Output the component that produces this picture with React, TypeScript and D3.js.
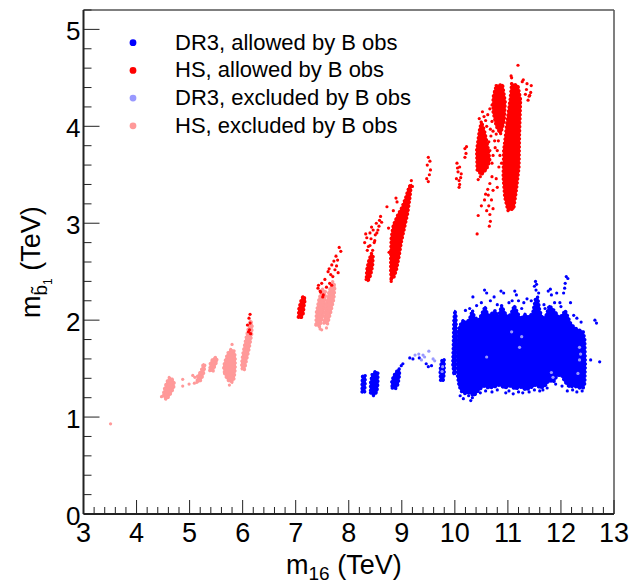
import * as d3 from "d3";

type Pt = [number, number];

const WIDTH = 629;
const HEIGHT = 581;
const MARGIN = { top: 10, right: 15, bottom: 67, left: 83.5 };

const m16Domain: Pt = [3, 13];
const mbDomain: Pt = [0, 5.2];
const m16Ticks = [3, 4, 5, 6, 7, 8, 9, 10, 11, 12, 13];
const mbTicks = [0, 1, 2, 3, 4, 5];

const legendLabels = [
  "DR3, allowed by B obs",
  "HS, allowed by B obs",
  "DR3, excluded by B obs",
  "HS, excluded by B obs",
];
const seriesColors = ["#0000ff", "#ff0000", "#9999ff", "#ff9999"];

// dense parts of each cloud, outlined (m16, mb) in TeV
const dr3AllowedClouds: Pt[][] = [
  [[8.25, 1.26], [8.3, 1.25], [8.31, 1.35], [8.31, 1.43], [8.26, 1.43], [8.25, 1.35]],
  [[8.41, 1.25], [8.47, 1.22], [8.53, 1.26], [8.55, 1.35], [8.55, 1.46], [8.5, 1.47], [8.44, 1.44], [8.41, 1.35]],
  [[8.82, 1.3], [8.88, 1.29], [8.93, 1.34], [8.96, 1.44], [8.95, 1.5], [8.9, 1.47], [8.84, 1.42], [8.81, 1.36]],
  [[9.73, 1.38], [9.78, 1.37], [9.8, 1.45], [9.8, 1.6], [9.75, 1.58], [9.72, 1.48]],
  [[9.98, 1.45], [10.01, 1.44], [10.02, 1.55], [10.03, 1.85], [10.02, 2.06], [10.0, 2.1], [9.98, 2.0], [9.97, 1.75], [9.96, 1.55]],
  [
    [10.06, 1.88], [10.1, 1.95], [10.16, 2.0], [10.22, 1.97], [10.28, 2.02], [10.33, 2.1], [10.37, 2.03],
    [10.45, 2.0], [10.52, 2.08], [10.57, 2.14], [10.62, 2.05], [10.7, 2.07], [10.76, 2.1], [10.82, 2.03],
    [10.88, 2.15], [10.94, 2.08], [11.0, 2.03], [11.06, 2.07], [11.12, 2.15], [11.18, 2.08], [11.24, 2.01],
    [11.32, 2.06], [11.4, 2.03], [11.47, 2.08], [11.52, 2.22], [11.56, 2.24], [11.6, 2.1], [11.66, 2.01],
    [11.72, 2.05], [11.78, 2.15], [11.84, 2.12], [11.9, 2.08], [11.96, 2.03], [12.02, 2.05], [12.08, 2.1],
    [12.12, 2.05], [12.18, 1.97], [12.26, 1.92], [12.34, 1.9], [12.42, 1.88], [12.45, 1.8], [12.46, 1.55],
    [12.45, 1.35], [12.42, 1.3], [12.34, 1.3], [12.25, 1.32], [12.16, 1.31], [12.08, 1.36], [12.0, 1.44],
    [11.92, 1.42], [11.86, 1.36], [11.78, 1.38], [11.7, 1.32], [11.62, 1.3], [11.52, 1.33], [11.42, 1.3],
    [11.34, 1.28], [11.24, 1.31], [11.14, 1.29], [11.04, 1.32], [10.94, 1.3], [10.84, 1.33], [10.74, 1.31],
    [10.64, 1.3], [10.54, 1.32], [10.44, 1.27], [10.36, 1.22], [10.28, 1.25], [10.2, 1.24], [10.13, 1.26],
    [10.08, 1.32], [10.05, 1.42], [10.05, 1.6],
  ],
];

const dr3AllowedPoints: Pt[] = [
  [8.99, 1.53], [9.02, 1.55], [9.15, 1.61], [9.21, 1.6], [9.33, 1.61], [9.46, 1.55], [9.5, 1.52], [9.56, 1.53],
  [10.2, 2.1], [10.34, 2.24], [10.41, 2.15], [10.56, 2.31], [10.6, 2.28], [10.67, 2.2], [10.74, 2.24],
  [10.87, 2.3], [10.92, 2.28], [11.02, 2.18], [11.13, 2.3], [11.16, 2.26], [11.2, 2.2], [11.3, 2.18],
  [11.36, 2.22], [11.44, 2.2], [11.52, 2.4], [11.54, 2.37], [11.5, 2.35], [11.53, 2.31], [11.58, 2.28],
  [11.68, 2.16], [11.76, 2.3], [11.8, 2.32], [11.82, 2.26], [11.92, 2.28], [11.98, 2.18], [12.05, 2.28],
  [12.08, 2.38], [12.1, 2.45], [12.13, 2.43], [12.07, 2.33], [12.18, 2.18], [12.24, 2.05], [12.3, 2.02],
  [12.38, 1.98], [10.28, 2.12], [10.5, 2.18], [10.8, 2.16], [11.08, 2.2], [11.26, 2.12], [11.7, 2.12],
  [11.88, 2.18], [12.0, 2.14],
  [12.64, 2.0], [12.67, 1.97], [12.56, 1.59], [12.73, 1.57],
  [10.1, 1.22], [10.16, 1.19], [10.3, 1.17], [10.33, 1.2], [10.26, 1.22], [10.48, 1.25], [10.58, 1.27],
  [10.7, 1.26], [10.8, 1.28], [10.96, 1.25], [11.02, 1.27], [11.1, 1.24], [11.2, 1.26], [11.28, 1.25],
  [11.4, 1.26], [11.5, 1.28], [11.6, 1.27], [11.66, 1.28], [11.74, 1.3], [11.9, 1.34], [12.02, 1.32],
  [12.12, 1.27], [12.22, 1.28], [12.3, 1.26], [12.4, 1.27],
];

const dr3ExcludedPoints: Pt[] = [
  [9.25, 1.64], [9.32, 1.65], [9.4, 1.64], [9.51, 1.68], [9.37, 1.59], [9.43, 1.62], [9.59, 1.6], [9.62, 1.58],
  [9.76, 1.47], [9.77, 1.52],
  [11.07, 1.88], [11.26, 1.83], [11.22, 1.72], [10.6, 1.62], [12.35, 1.72], [12.37, 1.65], [12.35, 1.59],
  [11.85, 1.41], [11.82, 1.46], [12.32, 1.45],
];

const hsAllowedClouds: Pt[][] = [
  [[7.05, 2.03], [7.1, 2.02], [7.14, 2.06], [7.16, 2.15], [7.18, 2.22], [7.14, 2.25], [7.1, 2.2], [7.06, 2.12]],
  [[8.33, 2.42], [8.36, 2.4], [8.41, 2.46], [8.45, 2.56], [8.46, 2.66], [8.43, 2.69], [8.38, 2.62], [8.34, 2.52]],
  [
    [8.8, 2.42], [8.85, 2.44], [8.9, 2.52], [8.95, 2.66], [8.99, 2.8], [9.05, 2.95], [9.11, 3.1], [9.15, 3.25],
    [9.18, 3.4], [9.14, 3.38], [9.07, 3.26], [9.0, 3.16], [8.92, 3.08], [8.84, 2.98], [8.8, 2.85], [8.79, 2.65],
    [8.79, 2.5],
  ],
  [[10.78, 4.42], [10.9, 4.43], [10.95, 4.25], [10.93, 4.05], [10.86, 3.92], [10.78, 4.0], [10.72, 4.15], [10.72, 4.3]],
  [[10.42, 3.55], [10.5, 3.5], [10.6, 3.56], [10.66, 3.65], [10.62, 3.8], [10.56, 3.95], [10.5, 4.05], [10.46, 3.95], [10.41, 3.75]],
  [
    [11.07, 4.44], [11.19, 4.42], [11.24, 4.27], [11.22, 3.93], [11.21, 3.58], [11.16, 3.34], [11.11, 3.15],
    [11.0, 3.13], [10.94, 3.27], [10.91, 3.48], [10.92, 3.75], [10.98, 4.03], [11.04, 4.27],
  ],
];

const hsAllowedPoints: Pt[] = [
  [6.14, 2.06], [6.12, 2.02], [6.09, 1.95], [6.13, 1.9], [6.15, 1.86], [6.11, 1.88], [6.14, 1.97],
  [7.42, 2.33], [7.49, 2.38], [7.51, 2.24], [7.64, 2.38], [7.7, 2.45], [7.61, 2.5], [7.8, 2.49], [7.63, 2.53],
  [7.68, 2.57], [7.72, 2.61], [7.76, 2.66], [7.77, 2.56], [7.82, 2.75], [7.85, 2.71], [7.55, 2.42],
  [7.46, 2.3], [7.58, 2.34], [7.43, 2.36], [7.47, 2.29], [7.52, 2.26], [7.68, 2.36], [7.66, 2.47],
  [7.74, 2.52], [7.79, 2.62],
  [8.32, 2.89], [8.43, 2.96], [8.46, 2.93], [8.52, 3.0], [8.6, 3.07], [8.62, 3.01], [8.55, 2.93], [8.37, 2.76],
  [8.4, 2.77], [8.49, 2.82], [8.34, 2.85], [8.4, 2.9], [8.5, 2.88], [8.57, 2.97], [8.45, 2.72], [8.48, 2.8],
  [8.3, 2.8], [8.35, 2.72], [8.42, 2.84], [8.53, 2.9], [8.58, 3.03],
  [8.72, 3.17], [8.89, 3.26], [8.91, 3.22], [8.84, 3.13], [9.18, 3.44], [9.2, 3.38], [8.75, 2.95],
  [8.76, 2.7], [8.8, 2.4],
  [9.5, 3.68], [9.53, 3.64], [9.48, 3.6], [9.54, 3.55], [9.47, 3.46], [9.5, 3.43], [9.52, 3.5],
  [10.04, 3.62], [10.09, 3.58], [10.06, 3.53], [10.12, 3.51], [10.03, 3.46], [10.08, 3.44], [10.09, 3.4],
  [10.08, 3.37], [10.19, 3.77], [10.22, 3.79], [10.21, 3.72], [10.19, 3.68], [10.05, 3.57], [10.11, 3.47],
  [10.42, 2.89], [10.44, 3.08], [10.5, 3.18], [10.56, 3.24], [10.6, 3.13], [10.64, 3.18], [10.66, 3.09],
  [10.65, 2.97], [10.67, 3.02], [10.72, 3.15], [10.69, 3.24], [10.63, 3.29], [10.72, 3.34], [10.66, 3.41],
  [10.8, 3.37], [10.83, 3.58], [10.78, 3.46], [10.58, 3.3], [10.62, 3.35], [10.7, 3.48],
  [10.62, 4.12], [10.66, 4.18], [10.7, 4.05], [10.68, 3.9], [10.75, 3.85], [10.8, 3.75], [10.85, 3.7],
  [10.72, 3.7], [10.55, 4.1], [10.52, 4.15], [10.6, 4.0], [10.64, 3.84], [10.82, 3.85], [10.88, 3.62],
  [10.67, 3.97], [10.72, 3.95], [10.76, 3.78], [10.7, 3.62], [10.66, 3.75], [10.58, 4.06], [10.7, 4.22],
  [10.75, 4.36], [10.46, 4.08], [10.48, 3.48], [10.44, 3.45], [10.78, 3.92],
  [11.36, 4.44], [11.41, 4.32], [11.38, 4.27], [11.27, 4.46], [11.19, 4.63], [11.35, 4.38], [11.43, 4.35],
  [11.44, 4.42], [11.06, 4.52], [11.07, 4.5], [11.29, 4.48], [11.33, 4.33], [11.4, 4.31],
];

const hsExcludedClouds: Pt[][] = [
  [[4.5, 1.22], [4.56, 1.18], [4.62, 1.22], [4.7, 1.3], [4.71, 1.36], [4.66, 1.4], [4.62, 1.41], [4.57, 1.36], [4.53, 1.3]],
  [[5.14, 1.36], [5.2, 1.37], [5.26, 1.44], [5.29, 1.53], [5.26, 1.55], [5.22, 1.48], [5.15, 1.42]],
  [[5.38, 1.48], [5.44, 1.47], [5.47, 1.52], [5.52, 1.58], [5.5, 1.62], [5.44, 1.6], [5.39, 1.56]],
  [
    [5.66, 1.45], [5.7, 1.4], [5.74, 1.37], [5.8, 1.36], [5.84, 1.4], [5.86, 1.5], [5.86, 1.62], [5.84, 1.68],
    [5.78, 1.7], [5.72, 1.66], [5.67, 1.58], [5.64, 1.52],
  ],
  [
    [5.99, 1.5], [6.03, 1.48], [6.07, 1.58], [6.12, 1.7], [6.17, 1.85], [6.18, 1.95], [6.15, 2.0], [6.1, 1.9],
    [6.05, 1.78], [6.0, 1.64], [5.98, 1.55],
  ],
  [[7.38, 1.95], [7.45, 1.93], [7.5, 2.02], [7.55, 2.15], [7.56, 2.3], [7.5, 2.32], [7.44, 2.22], [7.39, 2.08]],
  [[7.53, 1.97], [7.6, 1.96], [7.66, 2.08], [7.72, 2.22], [7.74, 2.35], [7.7, 2.4], [7.63, 2.3], [7.57, 2.15]],
];

const hsExcludedPoints: Pt[] = [
  [3.51, 0.93], [4.47, 1.21], [4.87, 1.39], [4.87, 1.32], [4.99, 1.34], [5.06, 1.43], [5.1, 1.41], [5.09, 1.35],
  [5.8, 1.75], [5.75, 1.33], [7.49, 1.9], [7.58, 1.92], [7.46, 1.91],
];

const x = d3.scaleLinear().domain(m16Domain).range([MARGIN.left, WIDTH - MARGIN.right]);
const y = d3.scaleLinear().domain(mbDomain).range([HEIGHT - MARGIN.bottom, MARGIN.top]);
const outline = d3
  .line<Pt>()
  .x((d) => x(d[0]))
  .y((d) => y(d[1]))
  .curve(d3.curveLinearClosed);

const FONT = "'Liberation Sans', Arial, Helvetica, sans-serif";

function Series({ clouds, points, color }: { clouds: Pt[][]; points: Pt[]; color: string }) {
  return (
    <g>
      {clouds.map((c, i) => (
        <g key={i}>
          <path d={outline(c) || ""} fill={color} stroke={color} strokeWidth={1.5} strokeLinejoin="round" />
          {/* beaded rim so the clouds read as points */}
          <path
            d={outline(c) || ""}
            fill="none"
            stroke={color}
            strokeWidth={3.4}
            strokeLinecap="round"
            strokeDasharray="0.01 4"
          />
        </g>
      ))}
      {points.map((p, i) => (
        <circle key={i} cx={x(p[0])} cy={y(p[1])} r={1.6} fill={color} />
      ))}
    </g>
  );
}

export default function App() {
  const x0 = x(m16Domain[0]);
  const x1 = x(m16Domain[1]);
  const y0 = y(mbDomain[0]);
  const y1 = y(mbDomain[1]);
  const xMinor = d3.range(3, 13.001, 0.2).map((v) => +v.toFixed(1));
  const yMinor = d3.range(0, 5.201, 0.2).map((v) => +v.toFixed(1));

  return (
    <svg
      width={WIDTH}
      height={HEIGHT}
      style={{ position: "absolute", left: 0, top: 0, background: "#fff" }}
      fontFamily={FONT}
    >
      <rect width={WIDTH} height={HEIGHT} fill="#fff" />

      <Series clouds={dr3AllowedClouds} points={dr3AllowedPoints} color={seriesColors[0]} />
      <Series clouds={[]} points={dr3ExcludedPoints} color={seriesColors[2]} />
      <Series clouds={hsExcludedClouds} points={hsExcludedPoints} color={seriesColors[3]} />
      <Series clouds={hsAllowedClouds} points={hsAllowedPoints} color={seriesColors[1]} />

      {/* frame */}
      <line x1={x0} x2={x1} y1={y1} y2={y1} stroke="#555" strokeWidth={1.5} />
      <line x1={x1} x2={x1} y1={y1} y2={y0} stroke="#555" strokeWidth={1.5} />

      {/* x axis */}
      {xMinor.map((v) => {
        const major = Number.isInteger(v);
        return (
          <line key={v} x1={x(v)} x2={x(v)} y1={y0} y2={y0 - (major ? 14 : 7)} stroke="#222" strokeWidth={1} />
        );
      })}
      <line x1={x0} x2={x1} y1={y0} y2={y0} stroke="#222" strokeWidth={2} />
      {m16Ticks.map((v) => (
        <text key={v} x={x(v)} y={y0 + 28} fontSize={27} textAnchor="middle" fill="#000">
          {v}
        </text>
      ))}
      <text x={286} y={574} fontSize={27} fill="#000">
        m<tspan fontSize={19} dy={6}>16</tspan>
        <tspan dy={-6}> (TeV)</tspan>
      </text>

      {/* y axis */}
      {yMinor.map((v) => {
        const major = Number.isInteger(v);
        return (
          <line key={v} x1={x0} x2={x0 + (major ? 16 : 8)} y1={y(v)} y2={y(v)} stroke="#222" strokeWidth={1} />
        );
      })}
      <line x1={x0} x2={x0} y1={y1} y2={y0} stroke="#222" strokeWidth={2} />
      {mbTicks.map((v) => (
        <text key={v} x={80.5} y={y(v) + 11} fontSize={26} textAnchor="end" fill="#000">
          {v}
        </text>
      ))}
      <text transform="translate(40,318) rotate(-90)" fontSize={27} fill="#000">
        m<tspan fontSize={19} dy={7}>{"b\u0303"}</tspan>
        <tspan fontSize={12} dy={5}>1</tspan>
        <tspan fontSize={27} dy={-12}> (TeV)</tspan>
      </text>

      {/* legend */}
      {legendLabels.map((label, i) => (
        <g key={label} transform={`translate(133,${42.7 + i * 27.7})`}>
          <circle r={3.4} fill={seriesColors[i]} />
          <text x={42} y={7} fontSize={22} fill="#000">
            {label}
          </text>
        </g>
      ))}
    </svg>
  );
}
